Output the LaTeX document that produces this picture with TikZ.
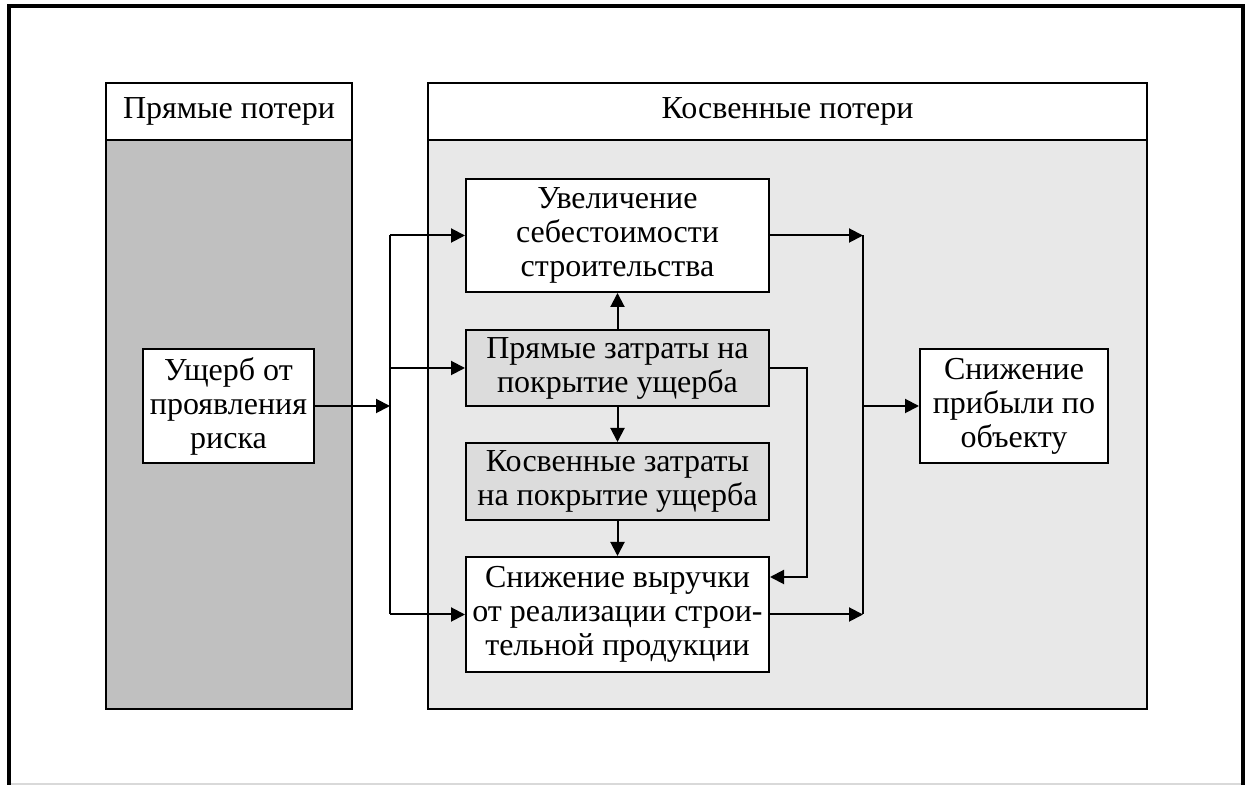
\documentclass[tikz,border=0pt]{standalone}
\usepackage{fontspec}
\setmainfont{Liberation Serif}
\usetikzlibrary{arrows.meta}
\definecolor{darkzone}{HTML}{C0C0C0}
\definecolor{lightzone}{HTML}{E8E8E8}
\definecolor{costfill}{HTML}{DCDCDC}
\begin{document}
\begin{tikzpicture}[x=0.5pt,y=-0.5pt,
  txt/.style={font=\fontsize{16}{17}\selectfont, align=center, inner sep=0pt},
  blk/.style={draw, line width=1pt, txt, fill=white},
  zone/.style={draw, line width=1pt, inner sep=0pt},
  link/.style={line width=1pt, -{Triangle[length=7pt,width=7pt]}},
  wire/.style={line width=1pt}]
\useasboundingbox (0,0) rectangle (1250,785);

% outer frame
\draw[line width=2pt] (9,785) -- (9,6) -- (1243,6) -- (1243,785);
\draw[black!15, line width=0.6pt] (11,784) -- (1241,784);

% columns
\node[zone, fill=white, minimum width=123pt, minimum height=28.5pt, txt] (lhead) at (229,111.5) {Прямые потери};
\node[zone, fill=darkzone, minimum width=123pt, minimum height=284.5pt] (lbody) at (229,424.5) {};
\node[zone, fill=white, minimum width=359.5pt, minimum height=28.5pt, txt] (rhead) at (787.5,111.5) {Косвенные потери};
\node[zone, fill=lightzone, minimum width=359.5pt, minimum height=284.5pt] (rbody) at (787.5,424.5) {};

% blocks
\node[blk, minimum width=85.5pt, minimum height=57pt] (dmg) at (228.5,406) {Ущерб от\\проявления\\риска};
\node[blk, minimum width=151.5pt, minimum height=56.5pt] (cost) at (617.5,235.5) {Увеличение\\себестоимости\\строительства};
\node[blk, fill=costfill, minimum width=151.5pt, minimum height=38pt] (dir) at (617.5,368) {Прямые затраты на\\покрытие ущерба};
\node[blk, fill=costfill, minimum width=151.5pt, minimum height=38.5pt] (ind) at (617.5,481.5) {Косвенные затраты\\на покрытие ущерба};
\node[blk, minimum width=151.5pt, minimum height=57.5pt] (rev) at (617.5,614.5) {Снижение выручки\\от реализации строи-\\тельной продукции};
\node[blk, minimum width=94pt, minimum height=57pt] (profit) at (1014,406) {Снижение\\прибыли по\\объекту};

% distribution bus on the left
\coordinate (lb) at (390,406);
\coordinate (lbt) at (390,235.5);
\coordinate (lbm) at (390,368);
\coordinate (lbb) at (390,614.5);
\draw[link] (dmg.east) -- (lb);
\draw[wire] (lbt) -- (lbb);
\draw[link] (lbt) -- (cost.west);
\draw[link] (lbm) -- (dir.west);
\draw[link] (lbb) -- (rev.west);

% vertical links
\draw[link] (dir.north) -- (cost.south);
\draw[link] (dir.south) -- (ind.north);
\draw[link] (ind.south) -- (rev.north);

% feedback from direct costs to revenue
\coordinate (fb1) at (807,368);
\coordinate (fb2) at (807,577);
\draw[link] (dir.east) -- (fb1) -- (fb2) -- (rev.east |- fb2);

% collecting bus on the right
\coordinate (rbt) at (863,235.5);
\coordinate (rbm) at (863,406);
\coordinate (rbb) at (863,614.5);
\draw[link] (cost.east) -- (rbt);
\draw[link] (rev.east) -- (rbb);
\draw[wire] (rbt) -- (rbb);
\draw[link] (rbm) -- (profit.west);
\end{tikzpicture}
\end{document}
